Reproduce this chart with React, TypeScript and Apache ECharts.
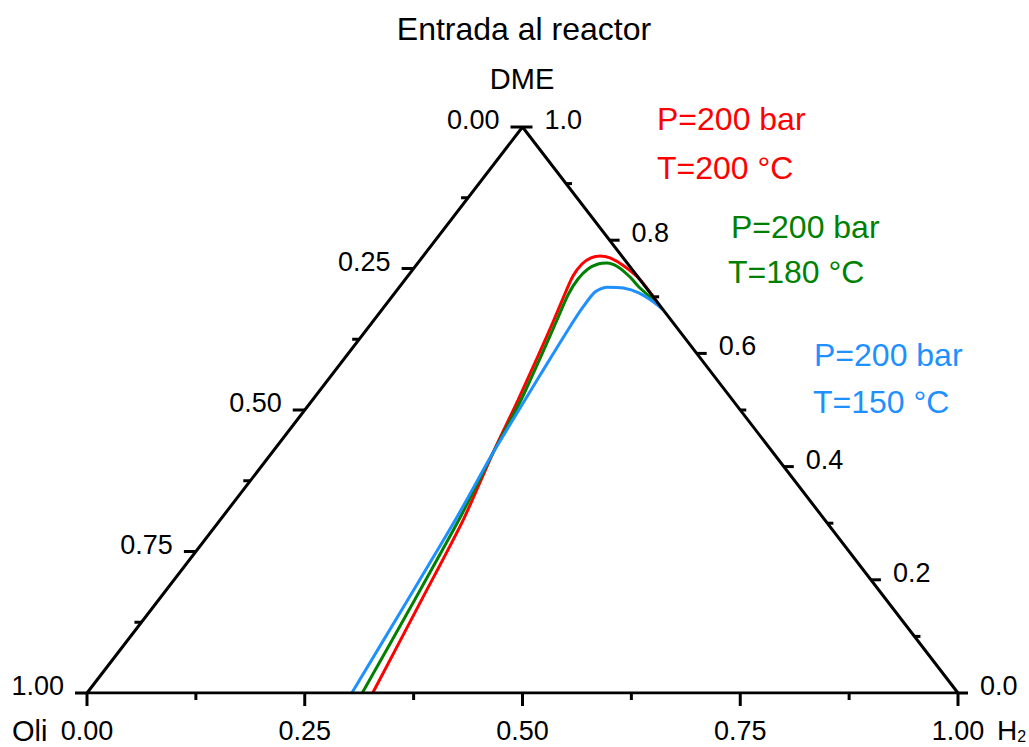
import React, { useEffect, useRef } from "react";
import * as echarts from "echarts";

// Ternary composition data: [H2 fraction, DME fraction]; Oli = 1 - H2 - DME
const redH2 = [0.328, 0.302, 0.279, 0.254, 0.236, 0.2201, 0.2073, 0.1969, 0.1896, 0.1893, 0.1943, 0.203, 0.2162, 0.2393, 0.2686, 0.3092];
const redDME = [0.0, 0.164, 0.306, 0.424, 0.518, 0.5954, 0.6555, 0.7014, 0.7367, 0.758, 0.7686, 0.7721, 0.7686, 0.7544, 0.7314, 0.6908];

const greenH2 = [0.316, 0.294, 0.274, 0.254, 0.2395, 0.2229, 0.2101, 0.2006, 0.198, 0.2006, 0.2077, 0.2171, 0.2333, 0.2559, 0.2771, 0.3145];
const greenDME = [0.0, 0.164, 0.306, 0.424, 0.5177, 0.5989, 0.659, 0.7032, 0.7314, 0.7491, 0.758, 0.7597, 0.7527, 0.735, 0.7155, 0.6855];

const blueH2 = [0.304, 0.286, 0.270, 0.254, 0.244, 0.237, 0.2315, 0.2285, 0.229, 0.238, 0.258, 0.280, 0.305, 0.323];
const blueDME = [0.0, 0.164, 0.306, 0.424, 0.518, 0.585, 0.641, 0.682, 0.7085, 0.717, 0.7155, 0.707, 0.691, 0.677];

// Axis ticks
const bottomMajor = [0, 0.25, 0.5, 0.75, 1.0];
const bottomLabels = ["0.00", "0.25", "0.50", "0.75", "1.00"];
const bottomMinor = [0.125, 0.375, 0.625, 0.875];

const leftMajor = [0, 0.25, 0.5, 0.75, 1.0];
const leftLabels = ["0.00", "0.25", "0.50", "0.75", "1.00"];
const leftMinor = [0.125, 0.375, 0.625, 0.875];

const rightMajor = [0, 0.2, 0.4, 0.6, 0.8, 1.0];
const rightLabels = ["0.0", "0.2", "0.4", "0.6", "0.8", "1.0"];
const rightMinor = [0.1, 0.3, 0.5, 0.7, 0.9];

const FONT = "'Liberation Sans', Arial, sans-serif";

// ternary (H2, DME) -> cartesian
const toXY = (h: number, d: number) => [h + d / 2, d];
const bottomPos = (v: number) => toXY(v, 0);
const leftPos = (v: number) => toXY(0, 1 - v); // Oli = v
const rightPos = (v: number) => toXY(1 - v, v); // DME = v

function tickSeries(
  positions: number[][],
  labels: string[] | null,
  side: "bottom" | "left" | "right",
  len: number
) {
  return {
    type: "custom",
    coordinateSystem: "cartesian2d",
    silent: true,
    clip: false,
    data: positions.map((p) => [p[0], p[1]]),
    renderItem: (params: any, api: any) => {
      const p = api.coord([api.value(0), api.value(1)]);
      const children: any[] = [];
      let x2 = p[0], y2 = p[1];
      if (side === "bottom") y2 = p[1] + len;
      if (side === "left") x2 = p[0] - len;
      if (side === "right") x2 = p[0] + len;
      children.push({
        type: "line",
        shape: { x1: p[0], y1: p[1], x2, y2 },
        style: { stroke: "#000", lineWidth: 3 },
      });
      if (labels) {
        const t = labels[params.dataIndex];
        let tx = p[0], ty = p[1], align = "center";
        if (side === "bottom") { ty = p[1] + 38; }
        if (side === "left") { tx = p[0] - 23; ty = p[1] - 7; align = "right"; }
        if (side === "right") { tx = p[0] + 22; ty = p[1] - 7; align = "left"; }
        children.push({
          type: "text",
          x: tx,
          y: ty,
          style: { text: t, fontSize: 27, fontFamily: FONT, fill: "#000", align, verticalAlign: "middle" },
        });
      }
      return { type: "group", children };
    },
  };
}

function curve(h: number[], d: number[], color: string) {
  return {
    type: "line",
    data: h.map((hv, i) => toXY(hv, d[i])),
    showSymbol: false,
    symbol: "none",
    smooth: 0.25,
    lineStyle: { color, width: 3 },
    silent: true,
    z: 3,
  };
}

const txt = (text: string, x: number, y: number, color: string, fontSize: number, align = "left") => ({
  type: "text",
  x,
  y,
  style: { text, fill: color, fontSize, fontFamily: FONT, align, verticalAlign: "middle" },
});

export default function App() {
  const ref = useRef<HTMLDivElement>(null);
  useEffect(() => {
    if (!ref.current) return;
    const chart = echarts.init(ref.current, null, { renderer: "svg" });
    const option: any = {
      animation: false,
      backgroundColor: "#fff",
      grid: { left: 87, right: 71, top: 127, bottom: 54 },
      xAxis: { type: "value", min: 0, max: 1, show: false },
      yAxis: { type: "value", min: 0, max: 1, show: false },
      series: [
        {
          type: "line",
          data: [toXY(0, 0), toXY(1, 0), toXY(0, 1), toXY(0, 0)],
          showSymbol: false,
          symbol: "none",
          lineStyle: { color: "#000", width: 3 },
          silent: true,
          z: 4,
        },
        curve(redH2, redDME, "#ff0000"),
        curve(greenH2, greenDME, "#008000"),
        curve(blueH2, blueDME, "#1e90ff"),
        tickSeries(bottomMajor.map(bottomPos), bottomLabels, "bottom", 13),
        tickSeries(bottomMinor.map(bottomPos), null, "bottom", 7),
        tickSeries(leftMajor.map(leftPos), leftLabels, "left", 12),
        tickSeries(leftMinor.map(leftPos), null, "left", 7),
        tickSeries(rightMajor.map(rightPos), rightLabels, "right", 10),
        tickSeries(rightMinor.map(rightPos), null, "right", 6),
      ],
      graphic: [
        txt("Entrada al reactor", 524, 29, "#000", 32, "center"),
        txt("DME", 522, 79, "#000", 29, "center"),
        txt("Oli", 12, 731, "#000", 29),
        {
          type: "text",
          x: 997,
          y: 730,
          style: {
            text: "H{sub|2}",
            fill: "#000",
            fontSize: 28,
            fontFamily: FONT,
            align: "left",
            verticalAlign: "middle",
            rich: { sub: { fontSize: 16, fontFamily: FONT, fill: "#000", padding: [12, 0, 0, 0] } },
          },
        },
        txt("P=200 bar", 657, 119, "#ff0000", 32),
        txt("T=200 °C", 657, 168, "#ff0000", 32),
        txt("P=200 bar", 731, 227, "#008000", 32),
        txt("T=180 °C", 728, 272, "#008000", 32),
        txt("P=200 bar", 814, 355, "#1e90ff", 32),
        txt("T=150 °C", 813, 402, "#1e90ff", 32),
      ],
    };
    chart.setOption(option);
    return () => chart.dispose();
  }, []);
  return <div ref={ref} style={{ position: "fixed", left: 0, top: 0, width: 1029, height: 747 }} />;
}
